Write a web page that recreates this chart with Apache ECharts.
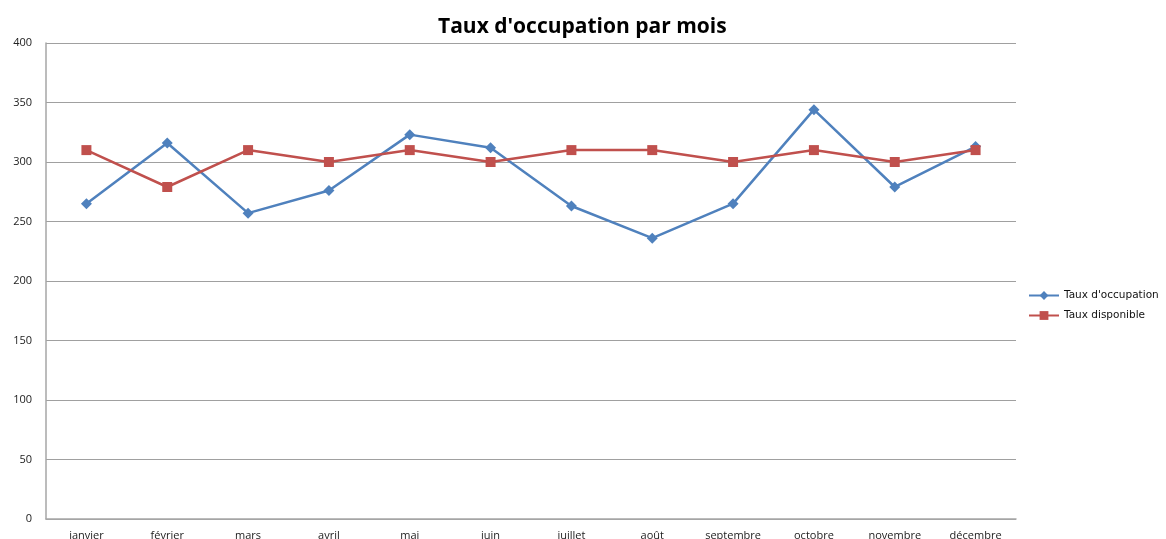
<!DOCTYPE html>
<html>
<head>
<meta charset="utf-8">
<script src="https://cdn.jsdelivr.net/npm/echarts@6/dist/echarts.min.js"></script>
<style>
html,body{margin:0;padding:0;background:#fff;}
#c{width:1166px;height:539px;}
</style>
</head>
<body>
<div id="c"></div>
<script>
const categories = ['janvier','février','mars','avril','mai','juin','juillet','août','septembre','octobre','novembre','décembre'];
const occupation = [265, 316, 257, 276, 323, 312, 263, 236, 265, 344, 279, 313];
const disponible = [310, 279, 310, 300, 310, 300, 310, 310, 300, 310, 300, 310];
const seriesNames = ["Taux d'occupation", 'Taux disponible'];
const titleText = "Taux d'occupation par mois";

const chart = echarts.init(document.getElementById('c'), null, {renderer:'canvas'});
chart.setOption({
  animation: false,
  backgroundColor: '#fff',
  title: {
    text: titleText, left: 433, top: 12,
    textStyle: {fontFamily: 'Open Sans', fontWeight: 'bold', fontSize: 21, color: '#000'}
  },
  legend: {
    orient: 'vertical', left: 1023, top: 285, itemGap: 9,
    itemWidth: 30, itemHeight: 11,
    textStyle: {fontFamily: 'DejaVu Sans', fontSize: 10.5, color: '#111'},
    data: seriesNames
  },
  grid: {left: 46, right: 150, top: 43, bottom: 20, containLabel: false, outerBoundsMode: 'none'},
  xAxis: {
    type: 'category', data: categories, boundaryGap: true,
    axisLine: {lineStyle: {color: '#a6a6a6', width: 1.5}},
    axisTick: {show: false},
    axisLabel: {interval: 0, margin: 11, fontFamily: 'Open Sans', fontSize: 11, color: '#222'}
  },
  yAxis: {
    type: 'value', min: 0, max: 400, interval: 50,
    axisLine: {show: true, lineStyle: {color: '#a6a6a6', width: 1.5}},
    axisTick: {show: false},
    axisLabel: {margin: 14, fontFamily: 'Open Sans', fontSize: 11, color: '#222'},
    splitLine: {lineStyle: {color: '#a0a0a0', width: 1.2}}
  },
  series: [
    {
      name: seriesNames[0], type: 'line', data: occupation,
      symbol: 'diamond', symbolSize: 11,
      lineStyle: {color: '#4F81BD', width: 2.5},
      itemStyle: {color: '#4F81BD'}
    },
    {
      name: seriesNames[1], type: 'line', data: disponible,
      symbol: 'rect', symbolSize: 10,
      lineStyle: {color: '#C0504D', width: 2.5},
      itemStyle: {color: '#C0504D'}
    }
  ]
});
</script>
</body>
</html>
